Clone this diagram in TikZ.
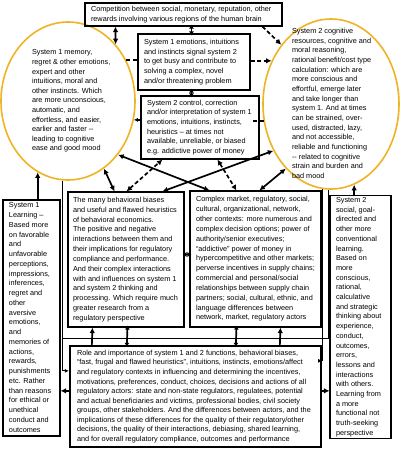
\documentclass[tikz,border=0pt]{standalone}
\usepackage{fontspec}
\setmainfont{Liberation Sans}
\usetikzlibrary{shapes.geometric,arrows.meta}
\definecolor{ellcol}{HTML}{F0B323}
\newcommand{\tbx}[3]{\makebox[#1][l]{\fontsize{7.3}{#2}\selectfont\begin{tabular}{@{}l@{}}#3\end{tabular}}}
\tikzset{
  tipL/.tip={Latex[length=5.5pt,width=5.5pt]},
  tipS/.tip={Latex[length=4pt,width=5pt]},
  tipT/.tip={Latex[length=4pt,width=4pt]},
}
\begin{document}
\begin{tikzpicture}[x=1pt,y=-1pt,
  box/.style={draw, rectangle, line width=1.1pt, inner ysep=0pt},
  oval/.style={draw=ellcol, ellipse, line width=1.6pt, inner sep=0pt},
  txt/.style={inner sep=0pt},
  conn/.style={line width=1.7pt},
  dbl/.style={conn, tipL-tipL},
  one/.style={conn, -tipL},
  sdbl/.style={conn, tipS-tipS, shorten <=-2pt, shorten >=-2pt},
  dsh/.style={dash pattern=on 4pt off 2.5pt},
  thn/.style={line width=0.9pt},
]
\fill[white] (0,0) rectangle (400,455);
\useasboundingbox (0,0) rectangle (400,455);

% ellipses
\node[oval, minimum width=134pt, minimum height=158pt] (le) at (68,101) {};
\node[oval, minimum width=136pt, minimum height=170pt] (re) at (331,104) {};
\node[txt] (let) at (68,101) {\tbx{72pt}{9.6pt}{System 1 memory,\\ regret \& other emotions,\\ expert and other\\ intuitions, moral and\\ other instincts. Which\\ are more unconscious,\\ automatic, and\\ effortless, and easier,\\ earlier and faster -{}-\\ leading to cognitive\\ ease and good mood}};
\node[txt] (ret) at (331,104) {\tbx{78pt}{9.67pt}{System 2 cognitive\\ resources, cognitive and\\ moral reasoning,\\ rational benefit/cost type\\ calculation: which are\\ more conscious and\\ effortful, emerge later\\ and take longer than\\ system 1.  And at times\\ can be strained, over-\\ used, distracted, lazy,\\ and not accessible,\\ reliable and functioning\\ -{}- related to cognitive\\ strain and burden and\\ bad mood}};

% boxes
\node[box, minimum width=197pt, minimum height=23pt, inner xsep=6pt] (top) at (183.5,14.5) {\tbx{185pt}{9.8pt}{Competition between social, monetary, reputation, other\\ rewards involving various regions of the human brain}};
\node[box, minimum width=112pt, minimum height=56pt, inner xsep=6pt] (s1e) at (194,62) {\tbx{100pt}{9.7pt}{System 1 emotions, intuitions\\ and instincts signal system 2\\ to get busy and contribute to\\ solving a complex, novel\\ and/or threatening problem}};
\node[box, minimum width=118pt, minimum height=63pt, inner xsep=6pt] (s2c) at (200,127.5) {\tbx{106pt}{9.7pt}{System 2 control, correction\\ and/or interpretation of system 1\\ emotions, intuitions, instincts,\\ heuristics – at times not\\ available, unreliable, or biased\\ e.g. addictive power of money}};
\node[box, minimum width=116pt, minimum height=135pt, inner xsep=5pt] (bh) at (126,259.5) {\tbx{106pt}{9.83pt}{The many behavioral biases\\ and useful and flawed heuristics\\ of behavioral economics.\\ The positive and negative\\ interactions between them and\\ their implications for regulatory\\ compliance and performance.\\ And their complex interactions\\ with and influences on system 1\\ and system 2 thinking and\\ processing. Which require much\\ greater research from a\\ regulatory perspective}};
\node[box, minimum width=131pt, minimum height=136pt, inner xsep=6pt] (cx) at (255.5,259) {\tbx{119pt}{9.83pt}{Complex market, regulatory, social,\\ cultural, organizational, network,\\ other contexts: more numerous and\\ complex decision options; power of\\ authority/senior executives;\\ “addictive” power of money in\\ hypercompetitive and other markets;\\ perverse incentives in supply chains;\\ commercial and personal/social\\ relationships between supply chain\\ partners; social, cultural, ethnic, and\\ language differences between\\ network, market, regulatory actors}};
\node[box, line width=2.3pt, minimum width=251pt, minimum height=101pt, inner xsep=7pt] (bb) at (195.5,396.5) {\tbx{237pt}{9.55pt}{Role and importance of system 1 and 2 functions, behavioral biases,\\ “fast, frugal and flawed heuristics”, intuitions, instincts, emotions/affect\\ and regulatory contexts in influencing and determining the incentives,\\ motivations, preferences, conduct, choices, decisions and actions of all\\ regulatory actors: state and non-state regulators, regulatees, potential\\ and actual beneficiaries and victims, professional bodies, civil society\\ groups, other stakeholders.  And the differences between actors, and the\\ implications of these differences for the quality of their regulatory/other\\ decisions, the quality of their interactions, debiasing, shared learning,\\ and for overall regulatory compliance, outcomes and performance}};
\node[box, minimum width=57pt, minimum height=236pt, inner xsep=6pt] (lb) at (31.5,318) {\tbx{45pt}{9.75pt}{System 1\\ Learning –\\ Based more\\ on favorable\\ and\\ unfavorable\\ perceptions,\\ impressions,\\ inferences,\\ regret and\\ other\\ aversive\\ emotions,\\ and\\ memories of\\ actions,\\ rewards,\\ punishments\\ etc. Rather\\ than reasons\\ for ethical or\\ unethical\\ conduct and\\ outcomes}};
\node[box, minimum width=61pt, minimum height=242pt, inner xsep=6pt] (rb) at (360.5,317) {\tbx{49pt}{9.7pt}{System 2\\ social, goal-\\ directed and\\ other more\\ conventional\\ learning.\\ Based on\\ more\\ conscious,\\ rational,\\ calculative\\ and strategic\\ thinking about\\ experience,\\ conduct,\\ outcomes,\\ errors,\\ lessons and\\ interactions\\ with others.\\ Learning from\\ a more\\ functional not\\ truth-seeking\\ perspective}};

% thin side connectors
\coordinate (hl) at (63,338);
\coordinate (hr) at (re.-92 |- hl);
\draw[thn] (hl) -- (hr) -- (re.-92);
\draw[thn, -tipT] (le.-94) |- ([yshift=-26pt]bb.north west);
\draw[thn, -tipT] (re.-96) |- ([yshift=-16pt]bb.north east);

% top area
\draw[dbl] ([xshift=31pt]top.south west) -- (le.50);
\draw[sdbl] ([xshift=107pt]top.south west) -- ([xshift=54pt]s1e.north west);
\draw[conn, dsh, -tipL] ([xshift=178pt]top.south west) -- (re.130);
\draw[conn, dsh] (le.35) -- (le.35 -| s1e.west);
\draw[conn, dsh, -tipL] (re.144 -| s1e.east) -- (re.144);
\draw[sdbl] ([xshift=54pt]s1e.south west) -- ([xshift=51pt]s2c.north west);
\draw[conn, dsh, -tipT] (le.-16 -| s2c.west) -- (le.-16);
\draw[conn, dsh] (re.194) -- ([xshift=-7pt]re.194 -| s2c.east);

% middle crossing connectors
\draw[dbl] ([xshift=47pt]bh.north west) -- (le.-62);
\draw[dbl, dsh] ([xshift=59pt]bh.north west) -- ([xshift=22pt]s2c.south west);
\draw[dbl] (le.-47) -- ([xshift=20pt]cx.north west);
\draw[dbl] ([xshift=95pt]bh.north west) -- (re.219);
\draw[dbl, dsh] ([xshift=77pt]s2c.south west) -- ([xshift=47pt]cx.north west);
\draw[dbl] (re.-125) -- ([xshift=70pt]cx.north west);
\draw[sdbl] ([yshift=5pt]bh.east) -- ([yshift=5pt]bh.east -| cx.west);

% side boxes
\draw[one] (lb.north -| le.-113) -- (le.-113);
\draw[one] (rb.north -| re.-74) -- (re.-74);
\draw[one] ([yshift=-46pt]bb.north west) -- ([yshift=-46pt]bb.north west -| lb.east);
\draw[one] ([yshift=-46pt]bb.north east) -- ([yshift=-46pt]bb.north east -| rb.west);

% bottom box to middle boxes
\draw[one] ([xshift=23pt]bb.north west) -- ([xshift=25pt]bh.south west);
\draw[sdbl] ([xshift=58pt]bb.north west) -- ([xshift=60pt]bh.south west);
\draw[sdbl] ([xshift=167pt]bb.north west) -- ([xshift=47pt]cx.south west);
\draw[one] ([xshift=211pt]bb.north west) -- ([xshift=91pt]cx.south west);
\end{tikzpicture}
\end{document}
